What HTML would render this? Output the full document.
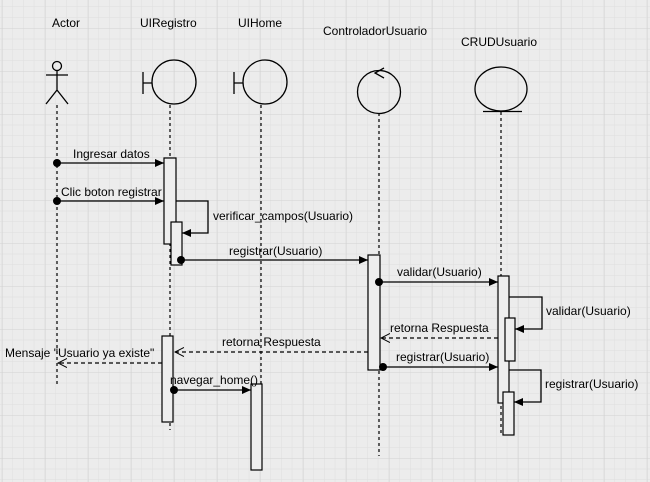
<!DOCTYPE html>
<html><head><meta charset="utf-8"><style>
html,body{margin:0;padding:0;background:#ececec}
svg{display:block}
text{font-family:"Liberation Sans",Arial,sans-serif;font-size:12px;fill:#000}
</style></head><body>
<svg width="650" height="482" viewBox="0 0 650 482" xmlns="http://www.w3.org/2000/svg">
<defs>
<pattern id="minor" width="10.75" height="10.75" patternUnits="userSpaceOnUse" x="2" y="7">
<path d="M10.75 0V10.75H0" fill="none" stroke="#dedede" stroke-width="1"/>
</pattern>
<pattern id="major" width="43" height="43" patternUnits="userSpaceOnUse" x="2" y="28">
<path d="M0 0V43M0 0H43" fill="none" stroke="#d2d2d2" stroke-width="1"/>
</pattern>
<marker id="fa" markerWidth="10" markerHeight="10" refX="9" refY="5" orient="auto" markerUnits="userSpaceOnUse"><path d="M0,1 L9,5 L0,9Z" fill="#000"/></marker>
<marker id="oa" markerWidth="10" markerHeight="10" refX="9" refY="5" orient="auto" markerUnits="userSpaceOnUse"><path d="M0,0.5 L9,5 L0,9.5" fill="none" stroke="#000"/></marker>
</defs>
<rect width="650" height="482" fill="#ececec"/>
<rect width="650" height="482" fill="url(#minor)"/>
<rect width="650" height="482" fill="url(#major)"/>

<g fill="none" stroke="#000" stroke-width="1.3">
<!-- actor -->
<circle cx="57" cy="66" r="4.5"/>
<path d="M57 70.5V90M46 75H68M57 90L46 104M57 90L68 104"/>
<!-- UIRegistro -->
<circle cx="174" cy="82" r="22"/>
<path d="M143 72V94M143 83H152"/>
<!-- UIHome -->
<circle cx="265" cy="82" r="22"/>
<path d="M234 72V94M234 83H243"/>
<!-- Controlador -->
<circle cx="379" cy="92" r="21.5"/>
<path d="M384 68L375 73L384 78"/>
<!-- CRUD -->
<ellipse cx="501" cy="89" rx="26" ry="22"/>
<path d="M483 111.5H522"/>
</g>

<g stroke="#000" stroke-width="1.2" stroke-dasharray="3,3" fill="none">
<path d="M57 105V385"/>
<path d="M170 105V430"/>
<path d="M261 105V384"/>
<path d="M379 113V456"/>
<path d="M501 112V435"/>
</g>

<g fill="#eeeeee" stroke="#000" stroke-width="1.2">
<rect x="164" y="158" width="12" height="86"/>
<rect x="171" y="222" width="11" height="43"/>
<rect x="162" y="336" width="11" height="86"/>
<rect x="251" y="384" width="11" height="86"/>
<rect x="368" y="255" width="12" height="115"/>
<rect x="498" y="276" width="11" height="127"/>
<rect x="505" y="318" width="10" height="43"/>
<rect x="503" y="392" width="11" height="43"/>
</g>

<g stroke="#000" stroke-width="1.3" fill="none">
<path d="M57 163H164" marker-end="url(#fa)"/>
<path d="M57 201H164" marker-end="url(#fa)"/>
<path d="M176 201H208V233H182" marker-end="url(#fa)"/>
<path d="M181 260H368" marker-end="url(#fa)"/>
<path d="M379 282H498" marker-end="url(#fa)"/>
<path d="M509 297H542V329H515" marker-end="url(#fa)"/>
<path d="M383 367H498" marker-end="url(#fa)"/>
<path d="M509 370H541V402H514" marker-end="url(#fa)"/>
<path d="M174 390H251" marker-end="url(#fa)"/>
</g>
<g stroke="#000" stroke-width="1.2" fill="none" stroke-dasharray="4,3">
<path d="M498 338H381" marker-end="url(#oa)"/>
<path d="M368 352H175" marker-end="url(#oa)"/>
<path d="M162 363H58" marker-end="url(#oa)"/>
</g>
<g fill="#000">
<circle cx="57" cy="163" r="4"/>
<circle cx="57" cy="201" r="4"/>
<circle cx="181" cy="260" r="4"/>
<circle cx="379" cy="282" r="4"/>
<circle cx="383" cy="367" r="4"/>
<circle cx="174" cy="390" r="4"/>
</g>

<text x="52" y="27">Actor</text>
<text x="140" y="27">UIRegistro</text>
<text x="238" y="27">UIHome</text>
<text x="323" y="35">ControladorUsuario</text>
<text x="461" y="46">CRUDUsuario</text>

<text x="73" y="158">Ingresar datos</text>
<text x="61" y="196">Clic boton registrar</text>
<text x="213" y="220">verificar_campos(Usuario)</text>
<text x="229" y="255">registrar(Usuario)</text>
<text x="397" y="276">validar(Usuario)</text>
<text x="546" y="315">validar(Usuario)</text>
<text x="390" y="332">retorna Respuesta</text>
<text x="222" y="346">retorna Respuesta</text>
<text x="5" y="357">Mensaje "Usuario ya existe"</text>
<text x="396" y="361">registrar(Usuario)</text>
<text x="545" y="388">registrar(Usuario)</text>
<text x="170" y="384">navegar_home()</text>
</svg>
</body></html>
